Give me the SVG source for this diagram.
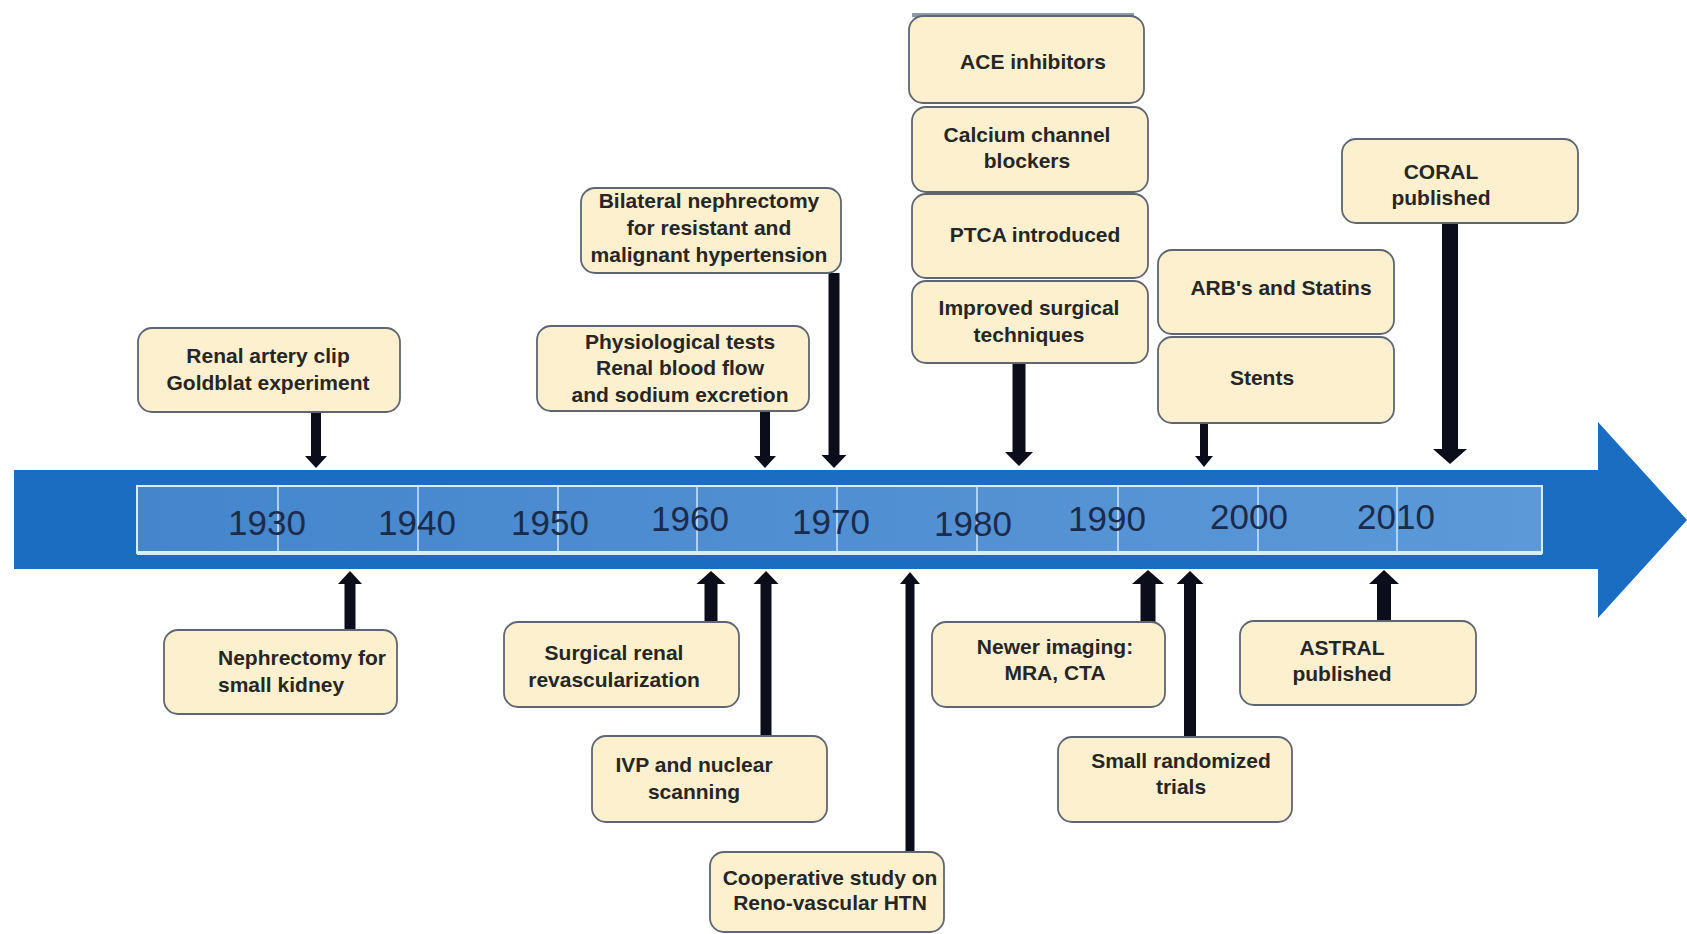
<svg xmlns="http://www.w3.org/2000/svg" width="1687" height="934" viewBox="0 0 1687 934">
<defs>
<linearGradient id="inner" x1="0" y1="0" x2="1" y2="0">
<stop offset="0" stop-color="#4585cb"/>
<stop offset="1" stop-color="#5c99d8"/>
</linearGradient>
</defs>
<style>
.box{fill:#fdf0cf;stroke:#5e6672;stroke-width:1.8}
.t{font-family:"Liberation Sans",Arial,sans-serif;font-weight:bold;font-size:21px;fill:#262626;text-anchor:middle}
.ts{text-anchor:start}
.yr{font-family:"Liberation Sans",Arial,sans-serif;font-size:35px;fill:#1a2b4c;text-anchor:middle}
.arr{fill:#0b0e1a}
.sep{stroke:#cde9ff;stroke-width:1.5}
</style>
<rect width="1687" height="934" fill="#ffffff"/>

<g id="timeline">
<polygon points="14,470 1598,470 1598,422 1687,520 1598,618 1598,569 14,569" fill="#1b6dc1"/>
<rect x="137" y="486" width="1405" height="67" fill="url(#inner)" stroke="#d6efff" stroke-width="2"/>
<line x1="137" y1="553" x2="1542" y2="553" stroke="#d6efff" stroke-width="4"/>
<line class="sep" x1="278" y1="486" x2="278" y2="553"/>
<line class="sep" x1="418" y1="486" x2="418" y2="553"/>
<line class="sep" x1="558" y1="486" x2="558" y2="553"/>
<line class="sep" x1="697" y1="486" x2="697" y2="553"/>
<line class="sep" x1="837" y1="486" x2="837" y2="553"/>
<line class="sep" x1="977" y1="486" x2="977" y2="553"/>
<line class="sep" x1="1118" y1="486" x2="1118" y2="553"/>
<line class="sep" x1="1258" y1="486" x2="1258" y2="553"/>
<line class="sep" x1="1397" y1="486" x2="1397" y2="553"/>
<text class="yr" x="267" y="535">1930</text>
<text class="yr" x="417" y="535">1940</text>
<text class="yr" x="550" y="535">1950</text>
<text class="yr" x="690" y="531">1960</text>
<text class="yr" x="831" y="534">1970</text>
<text class="yr" x="973" y="536">1980</text>
<text class="yr" x="1107" y="531">1990</text>
<text class="yr" x="1249" y="529">2000</text>
<text class="yr" x="1396" y="529">2010</text>
</g>

<g id="connectors">
<polygon class="arr" points="311,412 321,412 321,456 327,456 316,468 305,456 311,456"/>
<polygon class="arr" points="760,411 770,411 770,456 776,456 765,468 754,456 760,456"/>
<polygon class="arr" points="828.5,273 839.5,273 839.5,455 846.5,455 834,468 821.5,455 828.5,455"/>
<polygon class="arr" points="1012.5,363 1025.5,363 1025.5,452 1033,452 1019,466 1005,452 1012.5,452"/>
<polygon class="arr" points="1200,423 1208,423 1208,456 1213,456 1204,467 1195,456 1200,456"/>
<polygon class="arr" points="1442,223 1458,223 1458,449 1467,449 1450,464 1433,449 1442,449"/>
<polygon class="arr" points="344.5,630 355.5,630 355.5,584 362,584 350,571 338,584 344.5,584"/>
<polygon class="arr" points="704.5,622 717.5,622 717.5,584 725.5,584 711,571 696.5,584 704.5,584"/>
<polygon class="arr" points="760.5,736 771.5,736 771.5,584 778.5,584 766,571 753.5,584 760.5,584"/>
<polygon class="arr" points="905.5,852 914.5,852 914.5,584 920,584 910,572 900,584 905.5,584"/>
<polygon class="arr" points="1140.5,622 1155.5,622 1155.5,584 1164,584 1148,570 1132,584 1140.5,584"/>
<polygon class="arr" points="1184,737 1196,737 1196,584 1203.5,584 1190,571 1176.5,584 1184,584"/>
<polygon class="arr" points="1377,621 1391,621 1391,584 1399,584 1384,570 1369,584 1377,584"/>
</g>

<g id="renal-artery-clip">
<rect class="box" x="138" y="328" width="262" height="84" rx="14"/>
<text class="t" x="268" y="363">Renal artery clip</text>
<text class="t" x="268" y="390">Goldblat experiment</text>
</g>
<g id="nephrectomy-small-kidney">
<rect class="box" x="164" y="630" width="233" height="84" rx="14"/>
<text class="t ts" x="218" y="665">Nephrectomy for</text>
<text class="t ts" x="218" y="692">small kidney</text>
</g>
<g id="physiological-tests">
<rect class="box" x="537" y="326" width="272" height="85" rx="14"/>
<text class="t" x="680" y="349">Physiological tests</text>
<text class="t" x="680" y="375">Renal blood flow</text>
<text class="t" x="680" y="402">and sodium excretion</text>
</g>
<g id="bilateral-nephrectomy">
<rect class="box" x="581" y="188" width="260" height="85" rx="14"/>
<text class="t" x="709" y="208">Bilateral nephrectomy</text>
<text class="t" x="709" y="235">for resistant and</text>
<text class="t" x="709" y="262">malignant hypertension</text>
</g>
<g id="ace-inhibitors">
<rect x="912" y="13" width="222" height="4" fill="#8d9aa8"/>
<rect class="box" x="909" y="16" width="235" height="87" rx="14"/>
<text class="t" x="1033" y="69">ACE inhibitors</text>
</g>
<g id="calcium-channel-blockers">
<rect class="box" x="912" y="107" width="236" height="85" rx="14"/>
<text class="t" x="1027" y="142">Calcium channel</text>
<text class="t" x="1027" y="168">blockers</text>
</g>
<g id="ptca-introduced">
<rect class="box" x="912" y="194" width="236" height="84" rx="14"/>
<text class="t" x="1035" y="242">PTCA introduced</text>
</g>
<g id="improved-surgical">
<rect class="box" x="912" y="281" width="236" height="82" rx="14"/>
<text class="t" x="1029" y="315">Improved surgical</text>
<text class="t" x="1029" y="342">techniques</text>
</g>
<g id="arbs-statins">
<rect class="box" x="1158" y="250" width="236" height="84" rx="14"/>
<text class="t" x="1281" y="295">ARB's and Statins</text>
</g>
<g id="stents">
<rect class="box" x="1158" y="337" width="236" height="86" rx="14"/>
<text class="t" x="1262" y="385">Stents</text>
</g>
<g id="coral">
<rect class="box" x="1342" y="139" width="236" height="84" rx="14"/>
<text class="t" x="1441" y="179">CORAL</text>
<text class="t" x="1441" y="205">published</text>
</g>
<g id="surgical-revascularization">
<rect class="box" x="504" y="622" width="235" height="85" rx="14"/>
<text class="t" x="614" y="660">Surgical renal</text>
<text class="t" x="614" y="687">revascularization</text>
</g>
<g id="ivp-nuclear">
<rect class="box" x="592" y="736" width="235" height="86" rx="14"/>
<text class="t" x="694" y="772">IVP and nuclear</text>
<text class="t" x="694" y="799">scanning</text>
</g>
<g id="cooperative-study">
<rect class="box" x="710" y="852" width="234" height="80" rx="14"/>
<text class="t" x="830" y="885">Cooperative study on</text>
<text class="t" x="830" y="910">Reno-vascular HTN</text>
</g>
<g id="newer-imaging">
<rect class="box" x="932" y="622" width="233" height="85" rx="14"/>
<text class="t" x="1055" y="654">Newer imaging:</text>
<text class="t" x="1055" y="680">MRA, CTA</text>
</g>
<g id="small-randomized-trials">
<rect class="box" x="1058" y="737" width="234" height="85" rx="14"/>
<text class="t" x="1181" y="768">Small randomized</text>
<text class="t" x="1181" y="794">trials</text>
</g>
<g id="astral">
<rect class="box" x="1240" y="621" width="236" height="84" rx="14"/>
<text class="t" x="1342" y="655">ASTRAL</text>
<text class="t" x="1342" y="681">published</text>
</g>
</svg>
